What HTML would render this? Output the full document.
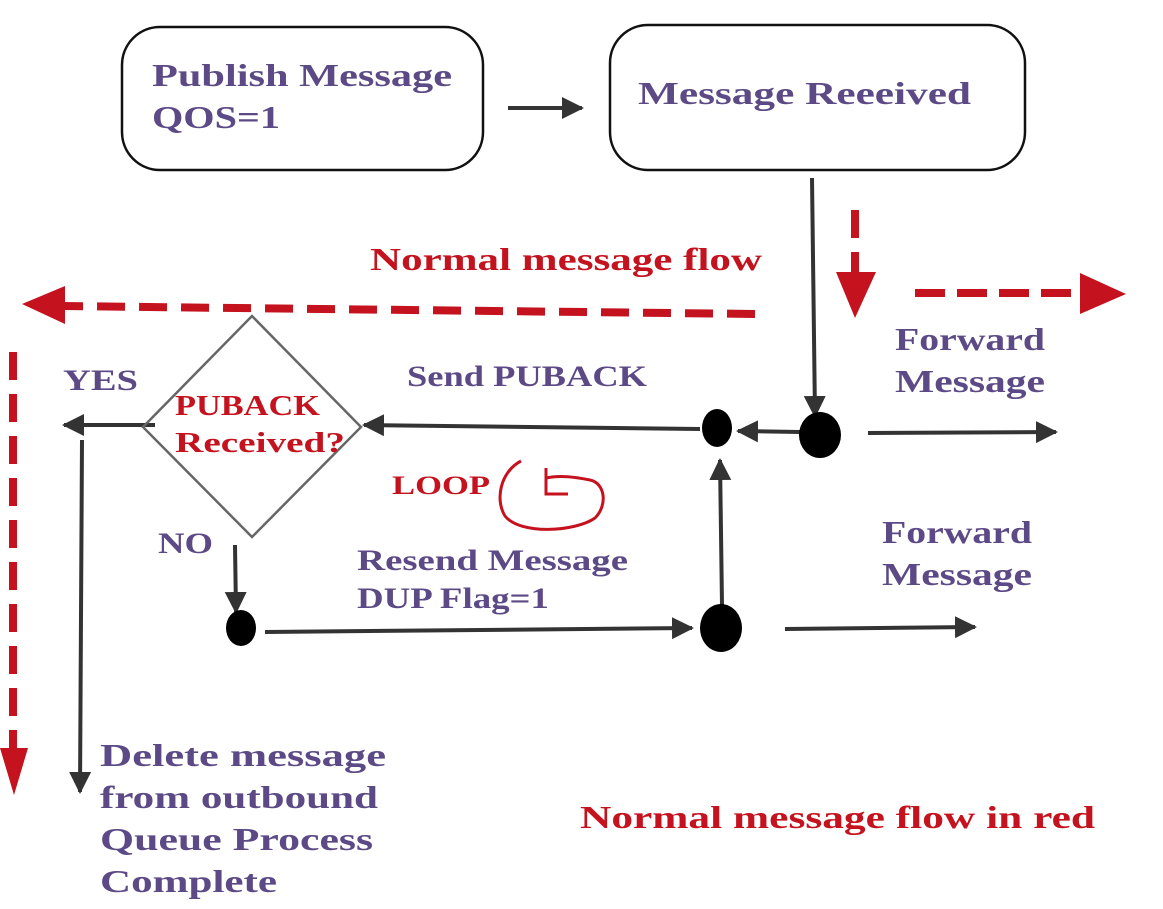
<!DOCTYPE html>
<html><head><meta charset="utf-8"><style>
html,body{margin:0;padding:0;background:#fff;}
svg{display:block}
text{font-family:"Liberation Serif",serif;font-weight:bold;}
.p{fill:#5c4a86;font-size:32px}
.r{fill:#c4121e;font-size:32px}
</style></head><body>
<svg width="1163" height="909" viewBox="0 0 1163 909">
<defs>
<marker id="b" markerWidth="22" markerHeight="22" refX="20" refY="11" orient="auto" markerUnits="userSpaceOnUse" viewBox="0 0 22 22"><path d="M0,0 L22,11 L0,22z" fill="#333"/></marker>
</defs>
<rect x="122" y="27" width="361" height="143" rx="38" fill="#fff" stroke="#111" stroke-width="2.5"/>
<rect x="610" y="25" width="415" height="145" rx="38" fill="#fff" stroke="#111" stroke-width="2.5"/>
<g lengthAdjust="spacingAndGlyphs">
<text class="p" x="152" y="86" textLength="300" lengthAdjust="spacingAndGlyphs">Publish Message</text>
<text class="p" x="152" y="128" textLength="128" lengthAdjust="spacingAndGlyphs">QOS=1</text>
<text class="p" x="638" y="104" textLength="333" lengthAdjust="spacingAndGlyphs">Message Reeeived</text>
</g>
<g stroke="#333" stroke-width="4" fill="none">
<line x1="508" y1="108" x2="582" y2="108" marker-end="url(#b)"/>
<line x1="812" y1="178" x2="815" y2="416" marker-end="url(#b)"/>
<line x1="800" y1="432" x2="738" y2="431" marker-end="url(#b)"/>
<line x1="700" y1="429" x2="364" y2="425" marker-end="url(#b)"/>
<line x1="155" y1="425" x2="64" y2="425" marker-end="url(#b)"/>
<line x1="82" y1="440" x2="80" y2="792" marker-end="url(#b)"/>
<line x1="235" y1="545" x2="236" y2="612" marker-end="url(#b)"/>
<line x1="265" y1="632" x2="692" y2="628" marker-end="url(#b)"/>
<line x1="722" y1="605" x2="720" y2="460" marker-end="url(#b)"/>
<line x1="785" y1="629" x2="975" y2="627" marker-end="url(#b)"/>
<line x1="868" y1="433" x2="1056" y2="432" marker-end="url(#b)"/>
</g>
<polygon points="252,316 361,427 252,537 143,427" fill="none" stroke="#666" stroke-width="2.5"/>
<ellipse cx="820" cy="435" rx="21" ry="23" fill="#000"/>
<ellipse cx="717" cy="428" rx="15" ry="19" fill="#000"/>
<ellipse cx="241" cy="628" rx="15" ry="18" fill="#000"/>
<ellipse cx="721" cy="628" rx="21" ry="24" fill="#000"/>
<g stroke="#c4121e" stroke-width="8" stroke-dasharray="28,14" fill="none">
<line x1="755" y1="314" x2="62" y2="306"/>
<line x1="13" y1="352" x2="13" y2="748"/>
<line x1="855" y1="210" x2="855" y2="272"/>
<line x1="915" y1="293" x2="1082" y2="293" stroke-dasharray="30,12"/>
</g>
<g fill="#c4121e">
<path d="M22,304 L65,286 L65,324z"/>
<path d="M0,748 L28,748 L14,795z"/>
<path d="M836,272 L876,272 L855,318z"/>
<path d="M1080,273 L1126,294 L1080,314z"/>
</g>
<path d="M521,461 C500,472 495,500 505,516 C520,535 575,532 595,518 C608,505 605,483 590,480 C575,477 560,475 546,478 M546,468 L546,494 L568,494" fill="none" stroke="#c4121e" stroke-width="3"/>
<text class="r" x="370" y="270" textLength="392" lengthAdjust="spacingAndGlyphs">Normal message flow</text>
<text class="p" x="895" y="350" textLength="150" lengthAdjust="spacingAndGlyphs">Forward</text>
<text class="p" x="895" y="392" textLength="150" lengthAdjust="spacingAndGlyphs">Message</text>
<text class="p" x="407" y="386" textLength="240" lengthAdjust="spacingAndGlyphs" style="font-size:30px">Send PUBACK</text>
<text class="p" x="63" y="390" textLength="75" lengthAdjust="spacingAndGlyphs" style="font-size:30px">YES</text>
<text class="r" x="175" y="415" textLength="145" lengthAdjust="spacingAndGlyphs" style="font-size:29px">PUBACK</text>
<text class="r" x="175" y="452" textLength="170" lengthAdjust="spacingAndGlyphs" style="font-size:29px">Received?</text>
<text class="r" x="392" y="494" textLength="98" lengthAdjust="spacingAndGlyphs" style="font-size:26px">LOOP</text>
<text class="p" x="158" y="553" textLength="55" lengthAdjust="spacingAndGlyphs" style="font-size:30px">NO</text>
<text class="p" x="357" y="570" textLength="271" lengthAdjust="spacingAndGlyphs" style="font-size:30px">Resend Message</text>
<text class="p" x="357" y="608" textLength="192" lengthAdjust="spacingAndGlyphs" style="font-size:30px">DUP Flag=1</text>
<text class="p" x="882" y="543" textLength="150" lengthAdjust="spacingAndGlyphs">Forward</text>
<text class="p" x="882" y="585" textLength="150" lengthAdjust="spacingAndGlyphs">Message</text>
<text class="p" x="100" y="766" textLength="286" lengthAdjust="spacingAndGlyphs">Delete message</text>
<text class="p" x="100" y="808" textLength="278" lengthAdjust="spacingAndGlyphs">from outbound</text>
<text class="p" x="100" y="850" textLength="273" lengthAdjust="spacingAndGlyphs">Queue Process</text>
<text class="p" x="100" y="892" textLength="177" lengthAdjust="spacingAndGlyphs">Complete</text>
<text class="r" x="580" y="828" textLength="515" lengthAdjust="spacingAndGlyphs">Normal message flow in red</text>
</svg>
</body></html>
